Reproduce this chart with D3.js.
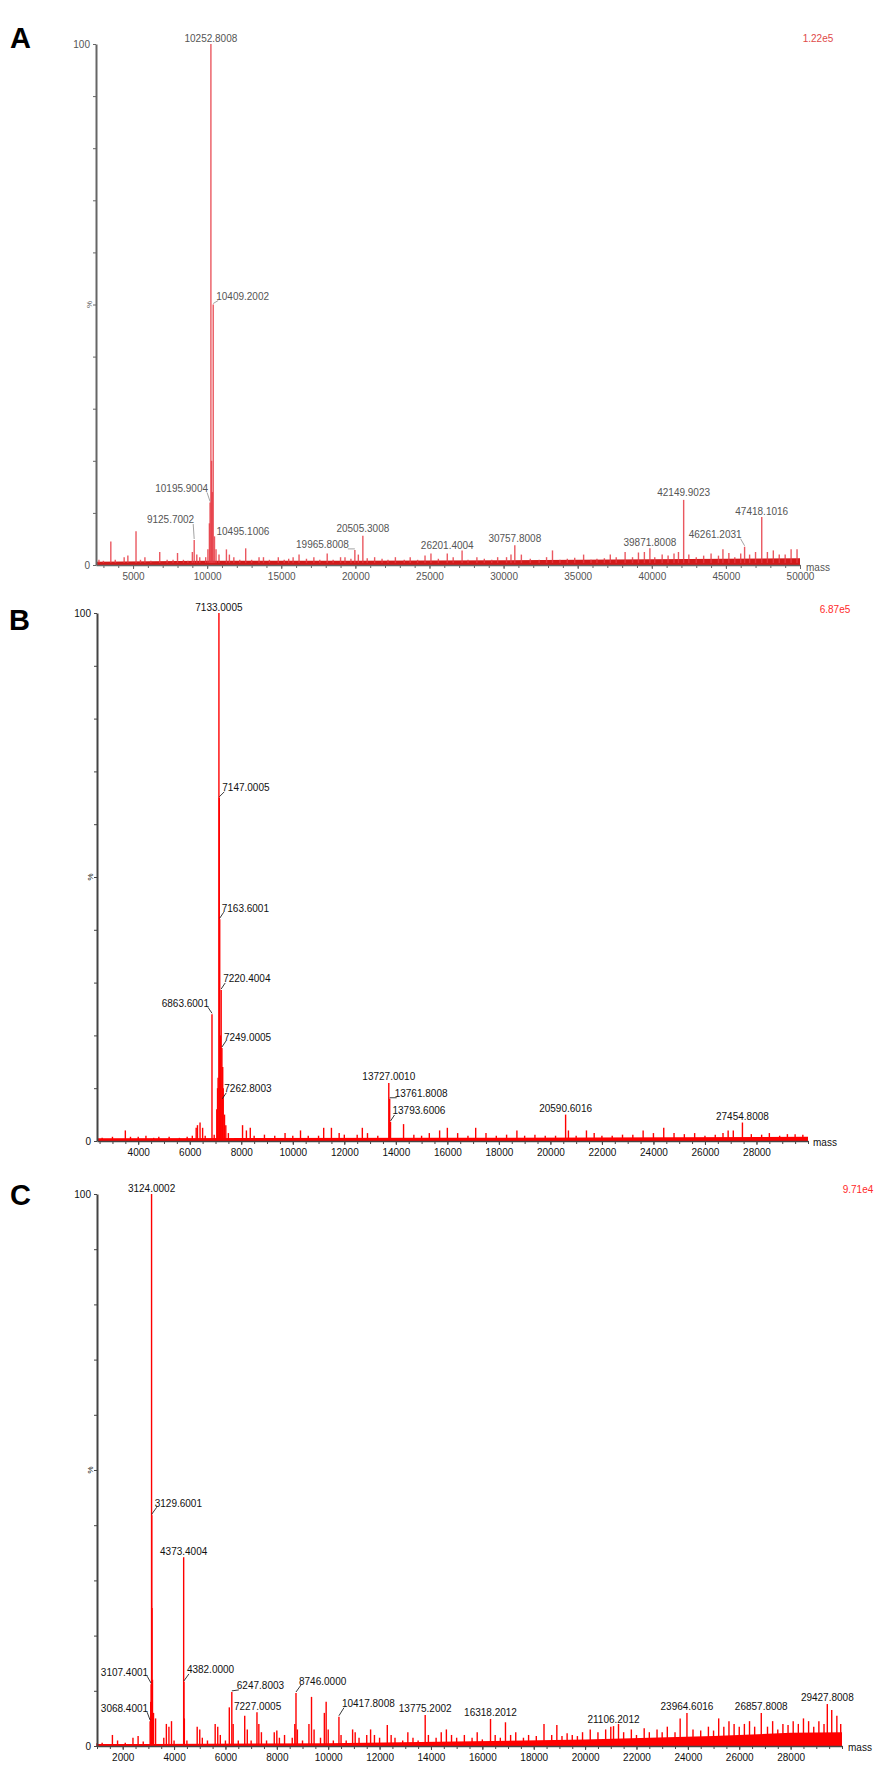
<!DOCTYPE html>
<html>
<head>
<meta charset="utf-8">
<title>Mass spectra A-C</title>
<script src="https://d3js.org/d3.v7.min.js"></script>
<style>
    body {
        margin: 0;
        background: #fff;
    }
    svg {
        display: block;
        font-family: "Liberation Sans", Arial, sans-serif;
    }
    .tick text {
        font-size: 10px;
    }
    .panel-letter {
        font-size: 29px;
        font-weight: bold;
        fill: #000;
    }
</style>
</head>
<body>
<svg id="chart" width="892" height="1773"></svg>
<script>
// ---- data (mass in Da, intensity in %) ----
const panelLetters = ["A", "B", "C"];
const scaleLabels = ["1.22e5", "6.87e5", "9.71e4"];

const massRangeA = [2500, 50000];
const massRangeB = [2400, 30000];
const massRangeC = [1000, 30000];

const massTicksA = [5000, 10000, 15000, 20000, 25000, 30000, 35000, 40000, 45000, 50000];
const massTicksB = [4000, 6000, 8000, 10000, 12000, 14000, 16000, 18000, 20000, 22000, 24000, 26000, 28000];
const massTicksC = [2000, 4000, 6000, 8000, 10000, 12000, 14000, 16000, 18000, 20000, 22000, 24000, 26000, 28000];

// labelled peaks
const peakLabelsA = ["10252.8008", "10409.2002", "10195.9004", "10495.1006", "9125.7002", "19965.8008",
    "20505.3008", "26201.4004", "30757.8008", "39871.8008", "42149.9023", "46261.2031", "47418.1016"];
const peakIntA = [100, 50, 12, 5.5, 4.8, 2.9, 5.6, 2.2, 3.8, 3.2, 12.5, 3.5, 9.2];

const peakLabelsB = ["7133.0005", "7147.0005", "7163.6001", "7220.4004", "6863.6001", "7249.0005",
    "7262.8003", "13727.0010", "13761.8008", "13793.6006", "20590.6016", "27454.8008"];
const peakIntB = [100, 65, 42, 28.6, 24, 17.6, 7.8, 11, 8, 3.6, 5, 3.5];

const peakLabelsC = ["3124.0002", "3129.6001", "4373.4004", "3107.4001", "3068.4001", "4382.0000",
    "6247.8003", "7227.0005", "8746.0000", "10417.8008", "13775.2002", "16318.2012", "21106.2012",
    "23964.6016", "26857.8008", "29427.8008"];
const peakIntC = [100, 41.8, 34.2, 11.2, 4.5, 11.6, 9.8, 6.1, 9.6, 5.3, 5.6, 4.9, 3.6, 6, 6, 7.6];

// unlabelled peaks
const otherPeaksA = [
    [2700, 1], [3000, 0.8], [3500, 4.5], [3800, 1], [4400, 1.5], [4650, 1.8], [5200, 6.5], [5500, 1],
    [5800, 1.5], [6200, 0.8], [6800, 2.5], [7300, 1], [7700, 1], [8000, 2.3], [8400, 1], [8700, 0.8],
    [9000, 2.5], [9300, 2], [9500, 1.5], [9900, 1.5], [10050, 3], [10150, 8], [10300, 20], [10350, 14],
    [10600, 3], [10800, 2], [11300, 3], [11500, 2], [11800, 1.5], [12200, 1], [12600, 3.2], [13000, 1],
    [13500, 1.5], [13800, 1.5], [14200, 1], [14800, 1.5], [15200, 1], [15500, 1.2], [15800, 1.5],
    [16200, 2], [16700, 1.2], [17200, 1.5], [17600, 1], [18100, 2.2], [18500, 1], [19000, 1.5],
    [19300, 1.5], [19700, 1.2], [20200, 2], [20800, 1.3], [21300, 1.5], [21800, 1.2], [22200, 1],
    [22700, 1.5], [23300, 1], [23700, 1.5], [24200, 1], [24700, 1.8], [25100, 2.2], [25600, 1.2],
    [26600, 1.5], [27200, 2.8], [27600, 1], [28200, 1.5], [28700, 1.2], [29200, 1], [29600, 1.5],
    [30200, 1.5], [30500, 2], [31200, 2], [31800, 1.2], [32400, 1], [32900, 1.5], [33300, 2.8],
    [33800, 1], [34300, 1.2], [34800, 1.4], [35400, 2], [35900, 1], [36300, 1.2], [36800, 1.3],
    [37200, 2], [37600, 1.5], [38200, 2.5], [38700, 1.5], [39100, 2.4], [39500, 2.5], [40200, 1.5],
    [40700, 2], [41100, 1.8], [41500, 2.2], [41800, 2.5], [42500, 2], [43000, 1.5], [43500, 1.8],
    [44000, 2.2], [44500, 1.8], [44800, 3], [45200, 2.3], [45600, 1.5], [46000, 2.2], [46600, 2],
    [47000, 2.5], [47800, 2.5], [48200, 2.8], [48600, 2], [49000, 2], [49400, 3], [49800, 3]
];
const otherPeaksB = [
    [2600, 0.6], [3000, 0.8], [3500, 2], [3700, 0.8], [4000, 0.8], [4300, 1], [4600, 0.6], [4800, 0.8],
    [5200, 0.8], [5600, 0.6], [5900, 0.8], [6100, 1], [6250, 2.5], [6300, 3], [6400, 3.5], [6500, 2.5],
    [6600, 1], [6950, 1.2], [7050, 6], [7080, 10], [7100, 12], [7190, 20], [7280, 14], [7300, 10],
    [7350, 5], [7400, 3], [7500, 1.5], [8050, 3], [8200, 2], [8350, 2.5], [8500, 1], [8900, 1.2],
    [9300, 1], [9700, 1.5], [10000, 1], [10300, 2], [10600, 1], [11000, 1], [11200, 2.5], [11500, 2.5],
    [11800, 1.5], [12000, 1.2], [12500, 1.2], [12700, 2.5], [12900, 1.5], [13300, 1], [14300, 3.2],
    [14700, 1.2], [15000, 1], [15300, 1.5], [15700, 2], [16000, 2.5], [16400, 1.5], [16800, 1],
    [17100, 2.5], [17500, 1.5], [17900, 1], [18300, 1.2], [18700, 2], [19000, 1], [19400, 1.2],
    [19800, 1], [20200, 1], [20700, 2], [21000, 1], [21400, 2], [21700, 1.5], [22000, 1], [22400, 1],
    [22800, 1.2], [23200, 1.2], [23600, 2], [24000, 1.5], [24400, 2.5], [24800, 1.5], [25200, 1.3],
    [25600, 1.5], [26000, 1], [26400, 1.2], [26700, 1.5], [26900, 2], [27100, 2], [27800, 1.3],
    [28200, 1.2], [28500, 1.5], [28900, 1], [29200, 1.3], [29500, 1.3], [29800, 1.2]
];
const otherPeaksC = [
    [1000, 0.5], [1200, 0.6], [1600, 2], [1800, 1], [2100, 0.6], [2400, 1.5], [2600, 1.8], [2800, 0.8],
    [3090, 8], [3140, 25], [3160, 12], [3200, 6], [3280, 5], [3600, 1.5], [3700, 4], [3800, 3.5],
    [3900, 4.5], [4000, 1], [4400, 5], [4500, 1], [4900, 3.5], [5000, 3], [5100, 1.5], [5300, 1],
    [5600, 4], [5700, 3.5], [5800, 2], [6000, 1], [6150, 7], [6300, 4], [6500, 1], [6750, 5.5],
    [6850, 3], [7000, 1], [7300, 4], [7400, 2.5], [7600, 1], [7900, 2.5], [8000, 2.8], [8100, 1.5],
    [8300, 2], [8600, 1.5], [8700, 4], [8800, 3], [9000, 1], [9250, 4], [9350, 8.9], [9450, 3],
    [9700, 1.5], [9850, 6], [9920, 8], [10000, 3], [10200, 1], [10500, 2], [10700, 1], [10950, 3],
    [11050, 2.5], [11200, 1.5], [11500, 2], [11650, 3], [11800, 2], [12000, 1.5], [12300, 3.8],
    [12450, 2], [12600, 1.5], [12900, 1], [13100, 2.5], [13300, 1.5], [13500, 1], [13900, 2],
    [14200, 1.5], [14400, 2.5], [14600, 3], [14800, 2], [15000, 1.5], [15300, 2], [15600, 1.5],
    [15800, 2.5], [16000, 1.2], [16500, 2], [16700, 1.5], [16900, 4.3], [17100, 2], [17300, 2.5],
    [17600, 1.5], [17800, 2], [18100, 1.8], [18400, 4], [18700, 2], [18900, 3.8], [19100, 1.8],
    [19300, 2.3], [19500, 2], [19700, 1.8], [19900, 2.5], [20200, 3], [20500, 2.5], [20800, 3],
    [21000, 3.5], [21300, 4], [21500, 2.5], [21800, 3], [22000, 2], [22300, 3.2], [22500, 2.5],
    [22800, 3], [23000, 2.5], [23200, 3.5], [23500, 2.5], [23700, 5], [24200, 3], [24500, 2.8],
    [24800, 3.5], [25000, 2.8], [25200, 5], [25400, 3.5], [25600, 4.5], [25800, 4], [26000, 3.5],
    [26200, 4], [26400, 4.5], [26600, 3.5], [27100, 3.5], [27300, 4.5], [27500, 3], [27700, 4],
    [27900, 3.8], [28100, 4.5], [28300, 4], [28500, 5], [28700, 4.5], [28900, 3.5], [29100, 4.5],
    [29300, 4], [29600, 6.5], [29800, 5.5], [29950, 4]
];

// noise floor along the baseline
const floorA = [[2500, 0.6], [10000, 0.8], [20000, 0.8], [30000, 0.9], [40000, 1.1], [50000, 1.3]];
const floorB = [[2400, 0.5], [16000, 0.6], [30000, 0.8]];
const floorC = [[1000, 0.3], [10000, 0.5], [15000, 0.8], [20000, 1.2], [25000, 1.8], [28000, 2.4], [30000, 2.5]];

// ---- layout: label placement [anchor, dx, dy, leader] relative to the peak top ----
const labelLayoutA = [["middle", 0, -6, 0], ["start", 3, -8, 1], ["end", -2, -14, 1], ["start", 2, -5, 0],
    ["end", 0, -20, 1], ["end", -6, -5, 1], ["middle", 0, -7, 0], ["middle", 0, -8, 0], ["middle", 0, -7, 0],
    ["middle", 0, -6, 0], ["middle", 0, -7, 0], ["end", -3, -12, 1], ["middle", 0, -6, 0]];
const labelLayoutB = [["middle", 0, -6, 0], ["start", 3, -10, 1], ["start", 2, -11, 1], ["start", 2, -11, 1],
    ["end", -3, -11, 1], ["start", 2, -11, 1], ["start", 2, -11, 1], ["middle", 0, -6, 0],
    ["start", 5, -5, 1], ["start", 2, -11, 1], ["middle", 0, -6, 0], ["middle", 0, -6, 0]];
const labelLayoutC = [["middle", 0, -6, 0], ["start", 3, -12, 1], ["middle", 0, -6, 0], ["end", -3, -12, 1],
    ["end", -2, -13, 1], ["start", 3, -12, 1], ["start", 5, -6, 1], ["start", -23, -6, 0],
    ["start", 3, -12, 1], ["start", 3, -13, 1], ["middle", 0, -7, 0], ["middle", 0, -6, 0],
    ["middle", 0, -7, 0], ["middle", 0, -6, 0], ["middle", 0, -6, 0], ["middle", 0, -7, 0]];

const panels = [
    {
        letter: panelLetters[0], scale: scaleLabels[0],
        domain: massRangeA, ticks: massTicksA, minor: 1000,
        labels: peakLabelsA, ints: peakIntA, others: otherPeaksA, floor: floorA, layout: labelLayoutA,
        left: 96, right: 800, top: 44, bottom: 565,
        letterPos: [10, 48], scalePos: [818, 38], massPos: [806, 567],
        peakColor: "#e63b44", peakOpacity: 0.85, floorColor: "#d21a1a",
        textColor: "#555", leaderColor: "#999", axisColor: "#666", scaleColor: "#e04a4a"
    },
    {
        letter: panelLetters[1], scale: scaleLabels[1],
        domain: massRangeB, ticks: massTicksB, minor: 500,
        labels: peakLabelsB, ints: peakIntB, others: otherPeaksB, floor: floorB, layout: labelLayoutB,
        left: 97, right: 808, top: 613, bottom: 1141,
        letterPos: [9, 630], scalePos: [835, 609], massPos: [813, 1142],
        peakColor: "#ff0000", peakOpacity: 1, floorColor: "#ff0000",
        textColor: "#111", leaderColor: "#222", axisColor: "#444", scaleColor: "#ff2a2a"
    },
    {
        letter: panelLetters[2], scale: scaleLabels[2],
        domain: massRangeC, ticks: massTicksC, minor: 500,
        labels: peakLabelsC, ints: peakIntC, others: otherPeaksC, floor: floorC, layout: labelLayoutC,
        left: 97, right: 842, top: 1194, bottom: 1746,
        letterPos: [10, 1205], scalePos: [858, 1189], massPos: [848, 1747],
        peakColor: "#ff0000", peakOpacity: 1, floorColor: "#ff0000",
        textColor: "#111", leaderColor: "#222", axisColor: "#444", scaleColor: "#ff2a2a"
    }
];

const svg = d3.select("#chart");

panels.forEach(drawPanel);

function drawPanel(p) {
    const g = svg.append("g");

    const x = d3.scaleLinear().domain(p.domain).range([p.left, p.right]);
    const y = d3.scaleLinear().domain([0, 100]).range([p.bottom, p.top]);

    // all peaks as sticks
    const peaks = p.others.concat(p.labels.map((t, i) => [+t, p.ints[i]]))
        .sort((a, b) => a[0] - b[0]);

    // noise floor
    const area = d3.area()
        .x(d => x(d[0]))
        .y0(y(0))
        .y1(d => y(d[1]));
    g.append("path")
        .datum(p.floor)
        .attr("d", area)
        .attr("fill", p.floorColor);

    g.selectAll("line.peak")
        .data(peaks)
        .join("line")
        .attr("class", "peak")
        .attr("x1", d => x(d[0]))
        .attr("x2", d => x(d[0]))
        .attr("y1", y(0))
        .attr("y2", d => y(d[1]))
        .attr("stroke", p.peakColor)
        .attr("stroke-opacity", p.peakOpacity)
        .attr("stroke-width", 1.4);

    // baseline trace
    g.append("line")
        .attr("x1", p.left).attr("x2", p.right)
        .attr("y1", y(0) - 1).attr("y2", y(0) - 1)
        .attr("stroke", p.floorColor)
        .attr("stroke-width", 2);

    // x axis, minor then major ticks
    const minorTicks = d3.range(Math.ceil(p.domain[0] / p.minor) * p.minor, p.domain[1] + 1, p.minor);
    g.append("g")
        .attr("transform", `translate(0,${p.bottom})`)
        .call(d3.axisBottom(x).tickValues(minorTicks).tickSize(3).tickSizeOuter(0).tickFormat(""))
        .call(a => a.select(".domain").remove())
        .call(a => a.selectAll("line").attr("stroke", p.axisColor));

    g.append("g")
        .attr("transform", `translate(0,${p.bottom})`)
        .call(d3.axisBottom(x).tickValues(p.ticks).tickSize(4).tickSizeOuter(0).tickPadding(4)
            .tickFormat(d3.format("d")))
        .call(a => a.select(".domain").attr("stroke", p.axisColor).attr("stroke-width", 1.5))
        .call(a => a.selectAll("line").attr("stroke", p.axisColor))
        .call(a => a.selectAll("text").attr("fill", p.textColor));

    // y axis
    g.append("g")
        .attr("transform", `translate(${p.left},0)`)
        .call(d3.axisLeft(y).tickValues(d3.range(0, 101, 10)).tickSize(3).tickSizeOuter(0).tickPadding(3)
            .tickFormat(d => (d === 0 || d === 100) ? d : ""))
        .call(a => a.select(".domain").attr("stroke", p.axisColor).attr("stroke-width", 2))
        .call(a => a.selectAll("line").attr("stroke", p.axisColor))
        .call(a => a.selectAll("text").attr("fill", p.textColor));

    g.append("text")
        .attr("transform", `translate(${p.left - 7},${y(50)}) rotate(-90)`)
        .attr("text-anchor", "middle")
        .attr("dy", "0.35em")
        .attr("font-size", 8)
        .attr("fill", p.textColor)
        .text("%");

    // peak labels
    p.labels.forEach((txt, i) => {
        const [anchor, dx, dy, lead] = p.layout[i];
        const px = x(+txt), py = y(p.ints[i]);
        const tx = px + dx, ty = py + dy;
        if (lead) {
            const ex = anchor === "end" ? tx - 1 : tx + 2;
            g.append("line")
                .attr("x1", px).attr("y1", py - 1)
                .attr("x2", ex).attr("y2", ty + 4)
                .attr("stroke", p.leaderColor)
                .attr("stroke-width", 0.9);
        }
        g.append("text")
            .attr("x", tx).attr("y", ty)
            .attr("dy", "0.35em")
            .attr("text-anchor", anchor)
            .attr("font-size", 10)
            .attr("fill", p.textColor)
            .text(txt);
    });

    // panel letter, intensity scale, "mass"
    g.append("text")
        .attr("class", "panel-letter")
        .attr("x", p.letterPos[0]).attr("y", p.letterPos[1])
        .text(p.letter);

    g.append("text")
        .attr("x", p.scalePos[0]).attr("y", p.scalePos[1])
        .attr("dy", "0.35em")
        .attr("text-anchor", "middle")
        .attr("font-size", 10)
        .attr("fill", p.scaleColor)
        .text(p.scale);

    g.append("text")
        .attr("x", p.massPos[0]).attr("y", p.massPos[1])
        .attr("dy", "0.35em")
        .attr("font-size", 10)
        .attr("fill", p.textColor)
        .text("mass");
}
</script>
</body>
</html>
